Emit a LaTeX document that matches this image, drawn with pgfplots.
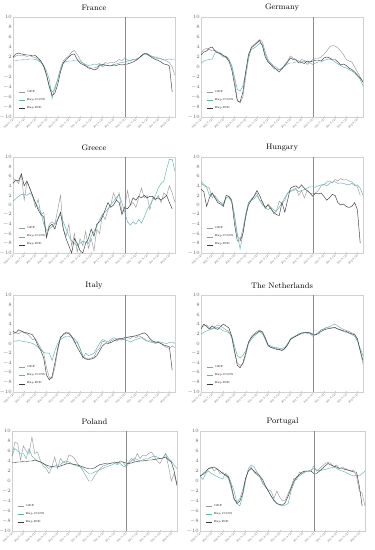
\documentclass[border=0pt]{standalone}
\usepackage{pgfplots}
\pgfplotsset{compat=1.18}
\definecolor{cgdp}{HTML}{9A9A9A}
\definecolor{ccons}{HTML}{62B2B2}
\definecolor{cind}{HTML}{3A3A3A}
\definecolor{cframe}{HTML}{D0D0D0}
\pgfplotsset{
  panel/.style={
    scale only axis, width=162bp, height=100bp,
    anchor=north west,
    xmin=0, xmax=58, ymin=-10, ymax=10,
    ytick={-10,-8,...,10},
    xtick={0,4,...,56},
    xticklabels={2006-Q1,2007-Q1,2008-Q1,2009-Q1,2010-Q1,2011-Q1,2012-Q1,2013-Q1,2014-Q1,2015-Q1,2016-Q1,2017-Q1,2018-Q1,2019-Q1,2020-Q1},
    x tick label style={rotate=45, anchor=north east, inner sep=0.4bp},
    y tick label style={inner sep=1bp},
    tick label style={font=\fontsize{2.8}{3.2}\selectfont, text=black!60},
    axis line style={cframe, line width=0.4bp},
    major tick length=1.2bp,
    tick style={cframe, line width=0.3bp},
    ytick style={draw=none},
    title style={at={(0.5,1)}, anchor=south, yshift=-3.5bp, font=\fontsize{8}{9}\selectfont},
    legend style={at={(0.03,0.04)}, anchor=south west, draw=none, fill=none,
      font=\fontsize{2.8}{3.2}\selectfont, row sep=0.6bp, inner sep=0.5bp},
    legend cell align=left,
    legend image code/.code={\draw[##1] (0bp,0bp) -- (6bp,0bp);},
  },
  gdp/.style={cgdp, line width=0.45bp},
  cons/.style={ccons, line width=0.45bp},
  ind/.style={cind, line width=0.45bp},
  vline/.style={black!45, line width=0.35bp, forget plot},
}
\newcommand\vl{\addplot[vline] coordinates {(40,-10) (40,10)};}
\begin{document}
\begin{tikzpicture}
\useasboundingbox (0,0) rectangle (375bp,-550bp);
% ---------------- France
\begin{axis}[panel, at={(13bp,-17bp)}, title={France}]
\addplot[gdp] table[x expr=\coordindex,y=v,row sep=\\]{v\\1.8\\2.2\\2.4\\2.2\\2.3\\2.1\\2.3\\2.0\\1.9\\1.5\\1.0\\0.0\\-1.8\\-3.8\\-5.0\\-4.5\\-2.5\\-0.2\\1.2\\1.8\\2.2\\3.0\\3.3\\2.5\\1.5\\0.8\\0.3\\0.0\\-0.2\\-0.2\\0.0\\0.5\\0.3\\0.9\\0.7\\1.0\\0.8\\1.1\\1.5\\1.3\\1.8\\1.4\\1.2\\1.5\\1.4\\1.8\\2.2\\2.6\\2.7\\2.4\\2.1\\2.0\\1.8\\1.7\\1.4\\1.2\\0.9\\0.0\\-1.7\\};
\addplot[cons] table[x expr=\coordindex,y=v,row sep=\\]{v\\1.3\\1.3\\1.4\\1.4\\1.5\\1.5\\1.6\\1.6\\1.5\\1.3\\0.9\\0.2\\-0.8\\-2.5\\-6.3\\-4.0\\-2.5\\-0.5\\0.8\\1.1\\1.2\\1.2\\1.3\\1.3\\1.1\\0.8\\0.5\\0.3\\0.4\\0.6\\0.5\\0.7\\0.0\\0.4\\0.3\\0.3\\0.5\\0.6\\0.8\\0.9\\1.0\\1.2\\1.3\\1.5\\1.6\\1.8\\2.1\\2.6\\2.5\\2.2\\2.0\\1.8\\1.7\\1.6\\1.5\\1.5\\1.6\\1.5\\1.5\\};
\addplot[ind] table[x expr=\coordindex,y=v,row sep=\\]{v\\2.0\\2.6\\2.8\\2.6\\2.5\\2.4\\2.4\\2.2\\2.3\\1.8\\1.2\\0.2\\-1.5\\-4.0\\-5.7\\-5.2\\-3.5\\-1.0\\0.8\\1.5\\2.0\\2.5\\2.6\\1.5\\0.8\\0.5\\0.2\\-0.2\\-0.3\\-0.6\\-0.4\\0.3\\0.5\\0.4\\0.3\\0.2\\0.4\\0.3\\0.5\\0.4\\0.5\\0.6\\0.8\\1.0\\1.3\\1.7\\2.3\\2.7\\2.6\\2.2\\1.8\\1.5\\1.3\\1.0\\0.6\\0.5\\0.2\\-5.0\\};
\vl
\legend{GDP,Exp.CONS,Exp.IND}
\end{axis}
% ---------------- Germany
\begin{axis}[panel, at={(201bp,-17bp)}, title={Germany}]
\addplot[gdp] table[x expr=\coordindex,y=v,row sep=\\]{v\\2.8\\3.5\\3.7\\3.5\\3.2\\3.4\\3.0\\2.5\\2.0\\2.2\\1.6\\0.2\\-2.5\\-6.5\\-7.2\\-6.0\\-2.0\\1.5\\4.0\\4.5\\5.0\\5.5\\5.0\\3.0\\1.5\\0.8\\0.2\\0.0\\-0.6\\-0.4\\0.5\\1.2\\2.2\\1.8\\1.5\\1.2\\1.0\\1.2\\0.5\\1.0\\1.5\\1.7\\1.7\\2.0\\2.5\\3.2\\4.0\\4.3\\4.2\\3.8\\3.2\\2.5\\1.5\\1.2\\1.0\\0.0\\-1.0\\-2.0\\-3.0\\};
\addplot[cons] table[x expr=\coordindex,y=v,row sep=\\]{v\\0.7\\1.2\\1.4\\1.5\\1.6\\2.8\\3.0\\2.8\\2.2\\1.8\\1.2\\0.3\\-2.0\\-4.5\\-4.8\\-3.8\\-1.0\\2.0\\3.5\\3.8\\4.2\\4.8\\4.5\\2.5\\1.2\\0.5\\-0.3\\-0.4\\-0.5\\-0.2\\0.2\\0.6\\0.8\\0.8\\1.0\\1.0\\1.5\\1.3\\1.0\\0.8\\0.5\\0.8\\1.0\\1.0\\1.3\\1.5\\1.6\\1.4\\1.0\\0.6\\0.3\\0.0\\-0.2\\-0.5\\-0.8\\-1.2\\-1.8\\-2.5\\-3.8\\};
\addplot[ind] table[x expr=\coordindex,y=v,row sep=\\]{v\\2.4\\3.0\\3.2\\3.8\\4.0\\3.2\\2.8\\2.7\\2.3\\2.0\\1.2\\-0.5\\-3.5\\-6.8\\-7.0\\-5.0\\-1.0\\2.5\\3.8\\4.3\\4.8\\5.3\\4.2\\2.0\\1.0\\0.5\\0.0\\-0.5\\-1.0\\-0.3\\0.3\\1.0\\1.8\\1.5\\1.4\\0.8\\0.9\\0.7\\1.2\\1.0\\1.2\\1.3\\1.3\\1.2\\1.8\\2.0\\1.8\\1.5\\1.5\\1.0\\0.4\\0.6\\0.3\\-0.2\\-0.5\\-1.0\\-1.6\\-2.2\\-3.0\\};
\vl
\legend{GDP,Exp.CONS,Exp.IND}
\end{axis}
% ---------------- Greece
\begin{axis}[panel, at={(13bp,-157bp)}, height=96bp, title={Greece}]
\addplot[gdp] table[x expr=\coordindex,y=v,row sep=\\]{v\\5.5\\5.2\\4.5\\6.3\\1.0\\4.8\\3.5\\2.0\\-0.5\\1.2\\-2.0\\-1.5\\-6.5\\-4.0\\-3.5\\-4.0\\-1.0\\2.0\\-5.0\\-6.5\\-4.0\\-8.5\\-6.0\\-9.8\\-7.0\\-8.5\\-5.5\\-9.0\\-7.0\\-9.5\\-5.0\\-6.0\\-2.0\\-3.0\\-1.0\\0.0\\2.5\\1.0\\2.5\\-1.5\\-0.5\\3.0\\0.0\\0.5\\-0.5\\1.5\\3.5\\1.5\\2.0\\-1.0\\1.5\\1.0\\2.0\\0.5\\2.5\\2.0\\4.0\\2.5\\0.5\\};
\addplot[cons] table[x expr=\coordindex,y=v,row sep=\\]{v\\0.8\\1.3\\1.8\\2.2\\2.2\\2.0\\2.5\\1.8\\0.5\\-0.5\\-1.5\\-4.0\\-5.3\\-5.0\\-4.5\\-4.0\\-3.0\\-2.0\\-3.5\\-5.0\\-6.5\\-7.5\\-8.0\\-8.5\\-8.0\\-7.5\\-7.8\\-8.0\\-6.5\\-5.5\\-4.5\\-3.0\\-2.0\\-1.5\\-0.8\\0.0\\0.8\\1.5\\2.2\\0.5\\-1.5\\-3.5\\-4.2\\-3.5\\-4.0\\-3.0\\-3.8\\-2.5\\-1.0\\0.0\\1.0\\2.0\\3.5\\4.5\\5.0\\7.5\\9.5\\9.5\\7.0\\};
\addplot[ind] table[x expr=\coordindex,y=v,row sep=\\]{v\\4.5\\5.2\\5.0\\6.5\\4.0\\5.0\\3.5\\2.0\\0.5\\-1.0\\-2.0\\-2.5\\-6.8\\-4.5\\-4.0\\-5.0\\-3.0\\-1.5\\-5.0\\-7.0\\-8.5\\-10.0\\-7.0\\-8.0\\-9.5\\-10.0\\-8.0\\-7.0\\-5.0\\-6.5\\-4.0\\-3.5\\-2.5\\-1.0\\0.5\\-0.5\\0.0\\1.0\\0.5\\-2.0\\-0.5\\-0.8\\0.0\\1.5\\1.0\\1.8\\1.5\\2.0\\1.5\\1.8\\1.8\\1.2\\1.5\\1.0\\1.5\\2.0\\0.5\\-0.8\\};
\vl
\legend{GDP,Exp.CONS,Exp.IND}
\end{axis}
% ---------------- Hungary
\begin{axis}[panel, at={(201bp,-157bp)}, height=96bp, title={Hungary}]
\addplot[gdp] table[x expr=\coordindex,y=v,row sep=\\]{v\\4.5\\4.0\\3.8\\3.5\\1.5\\2.0\\1.0\\0.5\\0.3\\1.5\\1.8\\0.5\\-2.5\\-6.5\\-7.2\\-5.0\\-2.0\\0.5\\1.2\\1.8\\2.5\\1.0\\0.8\\-0.8\\0.2\\-0.5\\-1.8\\-1.2\\0.8\\0.2\\1.0\\2.5\\3.0\\3.2\\3.5\\2.0\\3.0\\1.5\\3.0\\2.5\\2.3\\2.5\\3.0\\4.0\\4.2\\4.8\\5.0\\4.6\\5.3\\5.0\\5.5\\5.2\\5.3\\5.0\\4.8\\4.3\\3.8\\2.0\\};
\addplot[cons] table[x expr=\coordindex,y=v,row sep=\\]{v\\5.0\\4.3\\3.8\\2.0\\2.5\\1.5\\1.0\\0.5\\0.0\\1.5\\1.5\\0.8\\-2.0\\-6.0\\-9.2\\-6.0\\-2.0\\0.5\\1.0\\1.3\\2.0\\1.0\\0.0\\-0.5\\-1.0\\-0.5\\-1.0\\-1.3\\-0.5\\0.5\\1.5\\2.5\\2.8\\3.0\\3.2\\2.8\\3.0\\3.2\\3.5\\3.8\\3.8\\3.7\\4.0\\4.2\\4.3\\4.0\\4.5\\4.8\\4.8\\4.5\\4.6\\4.5\\4.3\\4.2\\4.5\\4.0\\4.2\\3.5\\2.0\\};
\addplot[ind] table[x expr=\coordindex,y=v,row sep=\\]{v\\3.3\\2.8\\-0.3\\1.5\\2.5\\1.5\\0.5\\0.2\\-0.3\\2.0\\1.8\\1.0\\-4.0\\-7.5\\-7.5\\-6.0\\-2.5\\0.0\\1.0\\1.8\\3.0\\2.0\\0.5\\-0.5\\0.0\\-0.8\\-1.5\\-2.0\\-2.2\\0.5\\-1.5\\1.0\\3.5\\3.8\\4.0\\3.5\\4.2\\3.5\\3.0\\2.5\\1.8\\2.5\\2.3\\2.5\\1.8\\1.0\\1.5\\2.2\\2.0\\0.5\\0.0\\0.2\\-0.3\\-0.5\\-0.3\\0.5\\-1.0\\-8.0\\};
\vl
\legend{GDP,Exp.CONS,Exp.IND}
\end{axis}
% ---------------- Italy
\begin{axis}[panel, at={(13bp,-295bp)}, height=97bp, title={Italy}]
\addplot[gdp] table[x expr=\coordindex,y=v,row sep=\\]{v\\2.0\\2.2\\2.0\\2.5\\2.2\\2.0\\1.5\\0.8\\1.0\\0.0\\-1.0\\-2.0\\-5.0\\-7.0\\-7.2\\-5.0\\-1.5\\1.0\\2.0\\2.3\\2.3\\1.5\\0.2\\0.3\\-1.0\\-2.5\\-3.0\\-3.2\\-3.0\\-2.8\\-1.5\\-1.0\\0.5\\0.3\\0.0\\0.5\\0.8\\0.5\\0.8\\0.7\\1.0\\1.3\\1.0\\1.5\\1.2\\1.6\\1.3\\1.0\\0.5\\0.6\\0.3\\0.2\\0.5\\0.0\\-0.5\\-0.8\\-1.0\\-0.5\\-0.8\\};
\addplot[cons] table[x expr=\coordindex,y=v,row sep=\\]{v\\0.5\\0.5\\0.6\\0.5\\0.4\\0.3\\0.2\\0.0\\-0.3\\-0.8\\-1.3\\-1.8\\-2.0\\-2.0\\-3.5\\-1.5\\0.0\\0.8\\1.2\\1.5\\1.5\\1.2\\1.0\\0.3\\-1.0\\-3.0\\-2.0\\-2.5\\-2.3\\-2.0\\-1.0\\0.0\\0.8\\0.6\\0.3\\0.8\\1.2\\1.0\\0.8\\0.9\\0.8\\0.6\\0.3\\0.6\\0.8\\1.0\\1.2\\0.8\\0.5\\0.3\\0.2\\0.0\\0.2\\0.3\\0.1\\0.0\\0.2\\0.3\\0.0\\};
\addplot[ind] table[x expr=\coordindex,y=v,row sep=\\]{v\\2.5\\2.2\\2.8\\2.6\\2.3\\2.2\\2.0\\1.8\\0.8\\-0.5\\-1.5\\-3.0\\-6.5\\-7.5\\-6.8\\-4.0\\-1.0\\1.3\\1.8\\2.2\\2.0\\1.5\\0.5\\-0.8\\-1.8\\-2.8\\-3.2\\-3.3\\-3.2\\-3.0\\-2.5\\-1.5\\-0.5\\0.0\\0.0\\0.2\\0.5\\0.8\\1.0\\1.0\\1.2\\1.3\\1.4\\1.5\\1.6\\1.8\\2.0\\2.2\\1.8\\1.0\\0.5\\0.3\\0.2\\0.0\\-0.3\\-0.5\\-0.7\\-5.5\\};
\vl
\legend{GDP,Exp.CONS,Exp.IND}
\end{axis}
% ---------------- The Netherlands
\begin{axis}[panel, at={(201bp,-295bp)}, height=97bp, title={The Netherlands}]
\addplot[gdp] table[x expr=\coordindex,y=v,row sep=\\]{v\\3.3\\3.6\\3.8\\3.2\\3.0\\3.5\\3.8\\3.6\\3.2\\2.8\\2.5\\1.2\\-1.8\\-4.0\\-4.5\\-4.3\\-2.5\\0.0\\1.5\\2.0\\2.5\\2.8\\2.2\\0.8\\-0.5\\-0.8\\-0.8\\-1.0\\-1.3\\-1.5\\-1.1\\-0.2\\1.0\\1.3\\1.6\\2.0\\2.1\\2.3\\2.1\\2.0\\1.5\\1.8\\2.3\\2.8\\3.0\\3.3\\3.5\\3.8\\4.0\\3.6\\3.2\\2.9\\2.7\\2.5\\2.2\\2.0\\0.8\\-1.5\\-4.2\\};
\addplot[cons] table[x expr=\coordindex,y=v,row sep=\\]{v\\2.0\\2.3\\2.6\\2.8\\3.0\\3.2\\3.3\\3.0\\2.6\\2.5\\2.2\\1.5\\-0.5\\-2.5\\-3.0\\-2.5\\-1.5\\0.0\\0.8\\1.5\\2.0\\2.5\\2.0\\1.0\\-0.3\\-0.5\\-0.8\\-0.8\\-1.0\\-1.0\\-0.8\\0.0\\0.8\\1.3\\1.6\\1.9\\2.0\\2.2\\2.3\\2.2\\2.0\\1.8\\2.2\\2.8\\3.0\\3.3\\3.3\\3.3\\3.2\\3.0\\2.8\\2.5\\2.3\\2.1\\1.8\\1.5\\0.5\\-1.0\\-2.5\\};
\addplot[ind] table[x expr=\coordindex,y=v,row sep=\\]{v\\3.0\\4.0\\3.5\\3.0\\3.6\\3.2\\2.9\\3.5\\4.0\\3.6\\3.2\\1.5\\-1.5\\-4.5\\-5.0\\-4.0\\-2.0\\0.3\\1.2\\1.8\\2.2\\2.6\\2.4\\1.2\\-0.3\\-0.8\\-1.0\\-1.2\\-1.2\\-1.4\\-1.0\\-0.3\\0.8\\1.2\\1.5\\1.8\\2.2\\2.2\\2.3\\2.2\\1.8\\1.8\\2.0\\2.5\\2.8\\3.0\\3.1\\3.2\\3.3\\3.0\\2.8\\2.6\\2.5\\2.2\\2.0\\1.8\\1.0\\-1.5\\-3.5\\};
\vl
\legend{GDP,Exp.CONS,Exp.IND}
\end{axis}
% ---------------- Poland
\begin{axis}[panel, at={(12bp,-431bp)}, width=165bp, title={Poland}]
\addplot[gdp] table[x expr=\coordindex,y=v,row sep=\\]{v\\5.0\\7.8\\7.5\\4.2\\7.0\\6.0\\5.5\\8.8\\5.5\\5.8\\4.0\\3.0\\2.5\\1.5\\2.8\\4.8\\2.5\\4.5\\3.8\\3.5\\5.2\\5.0\\4.5\\3.5\\2.8\\2.0\\1.0\\0.0\\0.0\\1.0\\1.8\\2.5\\3.0\\3.2\\3.4\\3.6\\3.8\\3.5\\4.0\\3.8\\3.0\\3.8\\4.5\\4.0\\5.5\\4.5\\5.2\\5.0\\5.5\\5.8\\5.0\\4.0\\3.5\\4.5\\5.5\\3.0\\0.0\\1.5\\-1.0\\};
\addplot[cons] table[x expr=\coordindex,y=v,row sep=\\]{v\\5.0\\6.5\\6.0\\5.5\\5.5\\4.5\\6.5\\5.0\\4.5\\4.0\\3.8\\3.5\\3.0\\2.5\\2.8\\3.0\\3.2\\3.2\\3.8\\4.0\\3.8\\3.5\\3.2\\3.0\\2.8\\2.5\\2.0\\1.5\\1.5\\1.8\\2.0\\2.3\\2.5\\2.8\\3.0\\3.2\\3.5\\3.3\\3.5\\3.0\\2.8\\3.5\\4.0\\4.5\\4.3\\4.0\\4.2\\4.5\\4.5\\4.8\\5.0\\4.8\\4.5\\4.5\\5.5\\4.5\\4.0\\3.2\\2.5\\};
\addplot[ind] table[x expr=\coordindex,y=v,row sep=\\]{v\\3.7\\3.7\\3.8\\3.8\\3.9\\3.9\\4.0\\4.0\\4.2\\4.0\\3.8\\3.5\\3.2\\3.0\\2.9\\2.8\\2.8\\3.0\\3.2\\3.4\\3.5\\3.4\\3.3\\3.2\\3.0\\2.8\\2.6\\2.5\\2.5\\2.6\\3.0\\3.3\\3.4\\3.5\\3.5\\3.6\\3.6\\3.7\\3.8\\3.8\\3.6\\3.5\\3.6\\3.8\\3.9\\4.0\\4.0\\4.1\\4.2\\4.2\\4.3\\4.4\\4.5\\4.6\\4.8\\4.2\\3.8\\2.0\\-0.8\\};
\vl
\legend{GDP,Exp.CONS,Exp.IND}
\end{axis}
% ---------------- Portugal
\begin{axis}[panel, at={(200bp,-431bp)}, width=165bp, title={Portugal}]
\addplot[gdp] table[x expr=\coordindex,y=v,row sep=\\]{v\\0.8\\1.5\\2.0\\2.5\\2.8\\2.0\\2.5\\1.5\\1.8\\1.0\\0.5\\-1.5\\-3.8\\-4.2\\-3.5\\-1.8\\0.5\\2.0\\2.8\\1.8\\1.2\\0.8\\-0.5\\-1.2\\-1.8\\-2.0\\-3.5\\-2.0\\-3.2\\-4.0\\-3.8\\-2.5\\-1.2\\0.5\\0.3\\1.8\\1.5\\2.0\\1.8\\2.0\\3.0\\2.0\\2.5\\3.0\\3.5\\3.8\\3.5\\2.8\\3.2\\2.5\\2.8\\2.5\\2.2\\2.0\\2.2\\1.0\\-2.0\\-2.5\\-5.0\\};
\addplot[cons] table[x expr=\coordindex,y=v,row sep=\\]{v\\1.0\\0.3\\1.5\\2.0\\1.5\\1.2\\0.9\\0.6\\0.5\\1.5\\1.0\\-0.5\\-2.0\\-4.5\\-5.0\\-3.0\\0.0\\2.5\\3.2\\2.8\\1.8\\1.0\\-0.2\\-1.0\\-2.0\\-3.0\\-4.0\\-4.5\\-4.8\\-5.0\\-4.8\\-4.5\\-2.0\\-0.5\\0.8\\1.0\\1.5\\1.8\\2.0\\2.2\\2.5\\2.2\\2.0\\2.2\\2.3\\2.5\\2.6\\2.8\\2.5\\2.2\\2.0\\1.8\\1.5\\1.2\\1.0\\1.2\\1.0\\1.5\\2.0\\};
\addplot[ind] table[x expr=\coordindex,y=v,row sep=\\]{v\\1.0\\1.3\\1.8\\2.5\\2.6\\2.8\\2.4\\2.0\\1.5\\1.2\\0.8\\-1.0\\-3.5\\-4.5\\-4.0\\-2.5\\0.5\\2.0\\2.5\\2.0\\1.5\\1.0\\0.3\\-1.0\\-2.0\\-3.0\\-3.8\\-4.5\\-4.7\\-4.8\\-4.3\\-3.0\\-1.5\\0.0\\0.8\\1.3\\1.8\\2.0\\2.0\\2.0\\1.5\\1.5\\2.0\\2.5\\3.0\\3.5\\3.2\\3.0\\2.8\\2.5\\2.5\\2.3\\2.2\\2.0\\1.8\\1.8\\-1.0\\-5.0\\};
\vl
\legend{GDP,Exp.CONS,Exp.IND}
\end{axis}
\end{tikzpicture}
\end{document}
